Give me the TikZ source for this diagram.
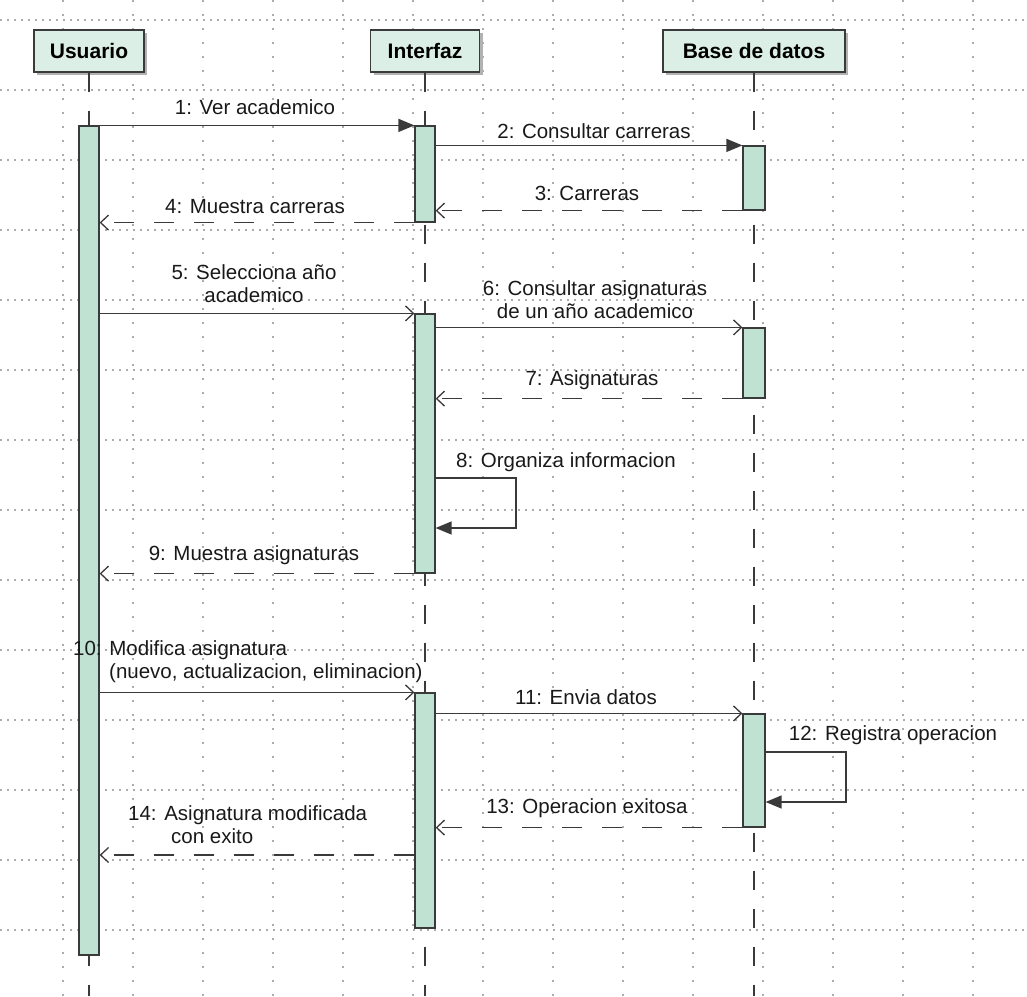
\documentclass[tikz,border=0pt]{standalone}
\usepackage{fontspec}
\setmainfont{Liberation Sans}
\usetikzlibrary{arrows.meta,shadows}
\definecolor{actfill}{HTML}{BFE2D2}
\definecolor{headfill}{HTML}{DCEFE6}
\definecolor{linecol}{HTML}{3A3A3A}

\begin{document}
\begin{tikzpicture}[x=1pt,y=-1pt,
grid/.style={gray!65,line width=1.4pt,dash pattern=on 1.6pt off 5.4pt},
vgrid/.style={gray!65,line width=1.4pt,dash pattern=on 1.6pt off 12.4pt},
head/.style={draw=linecol,fill=headfill,line width=1.2pt,minimum height=42pt,inner sep=0pt,font=\fontsize{21}{24}\selectfont\bfseries,drop shadow={shadow xshift=3pt,shadow yshift=-3pt,fill=gray!60,opacity=1}},
act/.style={draw=linecol,fill=actfill,line width=1.2pt,inner sep=0pt,minimum width=20pt},
life/.style={draw=linecol,line width=1.3pt,dash pattern=on 19pt off 19pt},
sync/.style={draw=linecol,line width=1.3pt,-{Triangle[length=16pt,width=13pt]}},
call/.style={draw=linecol,line width=1.3pt,-{Straight Barb[length=8pt,width=15pt]}},
reply/.style={call,dash pattern=on 20pt off 20pt},
lbl/.style={font=\fontsize{20.5}{23}\selectfont,inner sep=0pt,text=black!90}]
\useasboundingbox (0,0) rectangle (1027,996);
\foreach \gy in {20,90,...,1000} \draw[grid] (0,\gy) -- (1027,\gy);
\foreach \gx in {63,133,...,1003} \draw[vgrid] (\gx,0) -- (\gx,996);

\node[head,minimum width=110pt] (usr) at (89,51) {Usuario};
\node[head,minimum width=109pt] (intf) at (425,51) {Interfaz};
\node[head,minimum width=182pt] (bd) at (754,51) {Base de datos};
\coordinate (uend) at (89,996);
\coordinate (iend) at (425,996);
\coordinate (bend) at (754,996);
\draw[life] (usr.south) -- (uend);
\draw[life] (intf.south) -- (iend);
\draw[life] (bd.south) -- (bend);

\node[act,minimum height=829pt] (uact) at (89,540.5) {};
\node[act,minimum height=96pt] (ia) at (425,174) {};
\node[act,minimum height=259pt] (ib) at (425,443.5) {};
\node[act,minimum height=235pt] (ic) at (425,810.5) {};
\node[act,minimum width=22pt,minimum height=64pt] (ba) at (754,178) {};
\node[act,minimum width=22pt,minimum height=70pt] (bb) at (754,363) {};
\node[act,minimum width=22pt,minimum height=113pt] (bc) at (754,770.5) {};

\draw[sync] (uact.north east) -- (ia.north west);
\draw[sync] (ia.east |- ba.north) -- (ba.north west);
\draw[reply] (ba.south west) -- (ia.east |- ba.south);
\draw[reply] (ia.south west) -- (uact.east |- ia.south);
\draw[call] (uact.east |- ib.north) -- (ib.north west);
\draw[call] (ib.east |- bb.north) -- (bb.north west);
\draw[reply] (bb.south west) -- (ib.east |- bb.south);
\coordinate (o8) at (516,478);
\coordinate (r8) at (516,528);
\draw[sync] (ib.east |- o8) -- (o8) -- (r8) -- (ib.east |- r8);
\draw[reply] (ib.south west) -- (uact.east |- ib.south);
\draw[call] (uact.east |- ic.north) -- (ic.north west);
\draw[call] (ic.east |- bc.north) -- (bc.north west);
\coordinate (o12) at (846,752);
\coordinate (r12) at (846,802);
\draw[sync] (bc.east |- o12) -- (o12) -- (r12) -- (bc.east |- r12);
\draw[reply] (bc.south west) -- (ic.east |- bc.south);
\coordinate (m14) at (415,855);
\draw[reply] (ic.west |- m14) -- (uact.east |- m14);

\node[lbl] (t1) at (255,107) {1: Ver academico};
\node[lbl] (t2) at (594,131) {2: Consultar carreras};
\node[lbl] (t3) at (587,193) {3: Carreras};
\node[lbl] (t4) at (255,207) {4: Muestra carreras};
\node[lbl,align=center] (t5) at (254,284) {5: Selecciona año\\academico};
\node[lbl,align=center] (t6) at (595,300) {6: Consultar asignaturas\\de un año academico};
\node[lbl] (t7) at (592,380) {7: Asignaturas};
\node[lbl] (t8) at (566,462) {8: Organiza informacion};
\node[lbl] (t9) at (254,555) {9: Muestra asignaturas};
\node[lbl,align=left,anchor=west] (t10) at (73,662) {10: Modifica asignatura\\\hspace*{36pt}(nuevo, actualizacion, eliminacion)};
\node[lbl] (t11) at (586,697) {11: Envia datos};
\node[lbl] (t12) at (893,735) {12: Registra operacion};
\node[lbl] (t13) at (587,808) {13: Operacion exitosa};
\node[lbl,align=left,anchor=west] (t14) at (128,825) {14: Asignatura modificada\\\hspace*{43pt}con exito};
\end{tikzpicture}
\end{document}
